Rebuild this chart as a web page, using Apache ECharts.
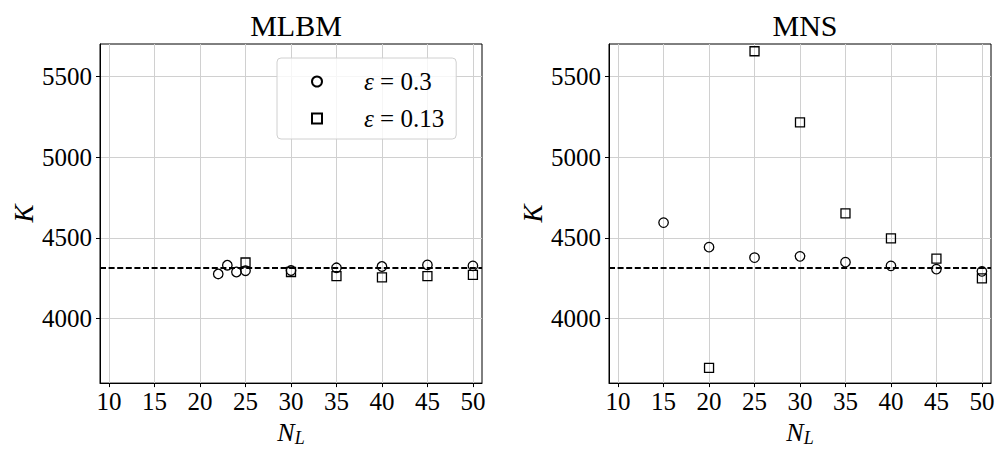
<!DOCTYPE html>
<html>
<head>
<meta charset="utf-8">
<script src="https://cdn.jsdelivr.net/npm/echarts@6/dist/echarts.min.js"></script>
<style>
html,body{margin:0;padding:0;background:#fff;}
#c{width:1002px;height:452px;}
</style>
</head>
<body>
<div id="c"></div>
<script>
// ---- data ----
const panelTitles = ['MLBM', 'MNS'];
const xTicks = [10, 15, 20, 25, 30, 35, 40, 45, 50];
const yTicks = [4000, 4500, 5000, 5500];
const seriesNames = ['eps03', 'eps013'];
const legendLabels = ['= 0.3', '= 0.13'];
const mlbmCircleN = [22, 23, 24, 25, 30, 35, 40, 45, 50];
const mlbmCircleK = [4276, 4330, 4288, 4296, 4297, 4314, 4322, 4332, 4326];
const mlbmSquareN = [25, 30, 35, 40, 45, 50];
const mlbmSquareK = [4347, 4288, 4262, 4255, 4262, 4270];
const mnsCircleN = [15, 20, 25, 30, 35, 40, 45, 50];
const mnsCircleK = [4594, 4442, 4377, 4385, 4349, 4326, 4306, 4292];
const mnsSquareN = [20, 25, 30, 35, 40, 45, 50];
const mnsSquareK = [3694, 5655, 5215, 4651, 4496, 4371, 4249];
const refK = 4316;

const FONT = "'Liberation Serif', 'DejaVu Serif', serif";
const zip = (a, b) => a.map((v, i) => [v, b[i]]);

const grids = [
  { left: 100, top: 44, width: 382, height: 346 },
  { left: 609, top: 44, width: 382, height: 346 }
];

function xAxis(i) {
  return {
    gridIndex: i, type: 'value', min: 9, max: 51,
    name: '{n|N}{s|L}', nameLocation: 'middle', nameGap: 33,
    nameTextStyle: {
      rich: {
        n: { fontFamily: FONT, fontStyle: 'italic', fontSize: 26, color: '#000' },
        s: { fontFamily: FONT, fontStyle: 'italic', fontSize: 18, color: '#000', verticalAlign: 'bottom', padding: [12, 0, 0, 0] }
      }
    },
    axisLine: { show: true, onZero: false, lineStyle: { color: '#000', width: 1 } },
    axisTick: { show: true, inside: false, length: 4, customValues: xTicks, lineStyle: { color: '#000', width: 1 } },
    axisLabel: { customValues: xTicks, margin: 6, fontFamily: FONT, fontSize: 25, color: '#000', formatter: v => String(v) },
    splitLine: { show: true, lineStyle: { color: '#d0d0d0', width: 1 } }
  };
}
function yAxis(i) {
  return {
    gridIndex: i, type: 'value', min: 3600, max: 5700,
    name: 'K', nameLocation: 'middle', nameGap: 63, nameRotate: 90,
    nameTextStyle: { fontFamily: FONT, fontStyle: 'italic', fontSize: 27, color: '#000' },
    axisLine: { show: true, onZero: false, lineStyle: { color: '#000', width: 1 } },
    axisTick: { show: true, inside: false, length: 4, customValues: yTicks, lineStyle: { color: '#000', width: 1 } },
    axisLabel: { customValues: yTicks, margin: 8, fontFamily: FONT, fontSize: 25, color: '#000', formatter: v => String(v) },
    splitLine: { show: true, lineStyle: { color: '#d0d0d0', width: 1 } }
  };
}

const markStyle = { color: 'rgba(255,255,255,0)', borderColor: '#000', borderWidth: 1.3, opacity: 1 };
function scatter(name, sym, i, data, withRef) {
  const s = {
    name: name, type: 'scatter', xAxisIndex: i, yAxisIndex: i,
    symbol: sym, symbolSize: sym === 'rect' ? 9 : 9.5,
    itemStyle: markStyle, data: data, z: 5
  };
  if (withRef) {
    s.markLine = {
      silent: true, symbol: 'none', label: { show: false },
      lineStyle: { color: '#000', type: [6, 2.6], width: 1.8 },
      data: [{ yAxis: refK }]
    };
  }
  return s;
}

const chart = echarts.init(document.getElementById('c'), null, { renderer: 'svg' });
chart.setOption({
  animation: false,
  backgroundColor: '#fff',
  title: [
    { text: panelTitles[0], left: 291, top: 5, textAlign: 'center', textStyle: { fontFamily: FONT, fontWeight: 'normal', fontSize: 30, color: '#000' } },
    { text: panelTitles[1], left: 800, top: 5, textAlign: 'center', textStyle: { fontFamily: FONT, fontWeight: 'normal', fontSize: 30, color: '#000' } }
  ],
  grid: grids.map(g => Object.assign({ show: true, borderColor: '#000', borderWidth: 1, backgroundColor: 'rgba(0,0,0,0)' }, g)),
  xAxis: [xAxis(0), xAxis(1)],
  yAxis: [yAxis(0), yAxis(1)],
  legend: {
    data: seriesNames, orient: 'vertical', left: 277, top: 58,
    padding: [11, 12, 8, 34], itemGap: 12, itemWidth: 10, itemHeight: 10,
    backgroundColor: 'rgba(255,255,255,0.8)', borderColor: '#d0d0d0', borderWidth: 1, borderRadius: 4,
    selectedMode: false,
    formatter: function (n) { return '{e|ε} ' + legendLabels[seriesNames.indexOf(n)]; },
    textStyle: {
      fontFamily: FONT, fontSize: 25, color: '#000', padding: [0, 0, 0, 37],
      rich: { e: { fontFamily: FONT, fontStyle: 'italic', fontSize: 25, color: '#000' } }
    }
  },
  series: [
    scatter(seriesNames[0], 'circle', 0, zip(mlbmCircleN, mlbmCircleK), true),
    scatter(seriesNames[1], 'rect', 0, zip(mlbmSquareN, mlbmSquareK), false),
    scatter(seriesNames[0], 'circle', 1, zip(mnsCircleN, mnsCircleK), true),
    scatter(seriesNames[1], 'rect', 1, zip(mnsSquareN, mnsSquareK), false)
  ]
});
</script>
</body>
</html>
